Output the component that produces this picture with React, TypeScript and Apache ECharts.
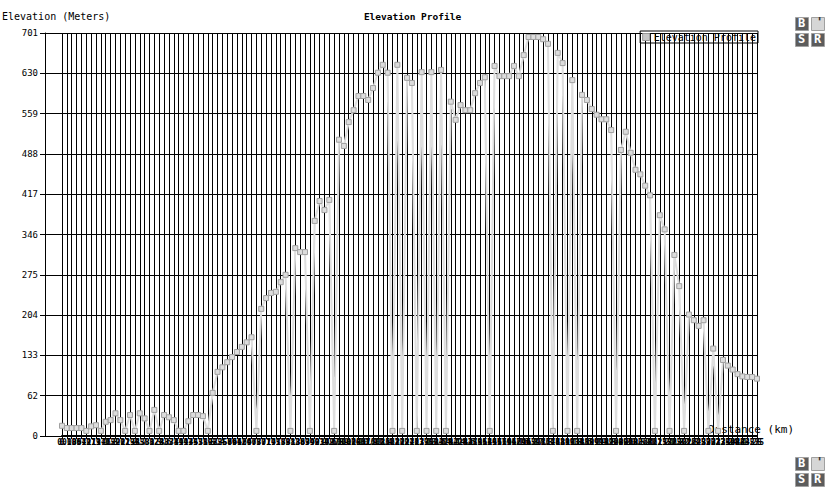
import React, { useEffect, useRef } from "react";
import * as echarts from "echarts";

const distances = [
  0, 0.18, 0.36, 0.54, 0.72, 0.97, 1.19, 1.37, 1.47, 1.65, 1.8, 1.91, 2.01, 2.19, 2.34, 2.55, 2.7, 2.81,
  3.02, 3.24, 3.38, 3.6, 3.71, 3.81, 3.99, 4.17, 4.35, 4.53, 4.71, 4.89, 5.07, 5.22, 5.4, 5.58, 5.76,
  5.94, 6.12, 6.29, 6.47, 6.65, 6.87, 7.01, 7.19, 7.41, 7.55, 7.73, 7.91, 8.13, 8.38, 8.63, 8.74, 8.92,
  9.03, 9.17, 9.42, 9.6, 9.75, 9.89, 10.07, 10.25, 10.43, 10.61, 10.76, 10.9, 11.08, 11.26, 11.4, 11.62,
  11.87, 12.09, 12.27, 12.41, 12.63, 12.77, 12.95, 13.09, 13.24, 13.6, 13.78, 13.92, 14.1, 14.28, 14.42,
  14.6, 14.78, 14.96, 15.14, 15.29, 15.47, 15.61, 15.79, 15.94, 16.12, 16.29, 16.44, 16.65, 16.8, 16.98,
  17.16, 17.3, 17.48, 17.63, 17.81, 17.99, 18.13, 18.31, 18.45, 18.6, 18.81, 18.99, 19.17, 19.32, 19.5,
  19.64, 19.82, 19.96, 20.18, 20.32, 20.5, 20.68, 20.86, 21.0, 21.15, 21.33, 21.51, 21.65, 21.8, 22.01,
  22.16, 22.3, 22.45, 22.59, 22.77, 23.02, 23.17, 23.35, 23.49, 23.67, 23.88, 24.1, 24.32, 24.53, 24.75,
  25,
];

const elevations = [
  9, 5, 5, 5, 5, 0, 8, 10, 0, 16, 19, 31, 19, 0, 28, 0, 31, 22, 0, 37, 0, 28, 24, 19, 0, 0, 17, 28, 28,
  26, 0, 67, 104, 112, 121, 130, 139, 148, 156, 165, 0, 215, 234, 243, 245, 262, 275, 0, 322, 315, 315,
  0, 370, 405, 389, 407, 0, 513, 502, 544, 565, 590, 590, 583, 604, 631, 645, 631, 0, 645, 0, 622, 613,
  0, 632, 0, 632, 0, 636, 0, 580, 548, 574, 565, 565, 595, 613, 623, 0, 643, 625, 625, 625, 643, 625,
  662, 694, 694, 694, 690, 682, 0, 666, 648, 0, 618, 0, 592, 583, 567, 557, 549, 549, 530, 0, 495, 527,
  490, 460, 452, 432, 415, 0, 380, 355, 0, 310, 255, 0, 205, 195, 185, 195, 0, 145, 0, 125, 115, 108,
  100, 96, 95, 95, 92,
];

const yMin = -9;
const yMax = 701;
const yStep = 71;

const MONO = "'DejaVu Sans Mono', 'Liberation Mono', monospace";

function buttons(x: number, y: number) {
  const btn = (dx: number, dy: number, label: string, dark: boolean) => [
    {
      type: "rect",
      left: x + dx,
      top: y + dy,
      shape: { width: 13, height: 13 },
      style: { fill: dark ? "#5c5c5c" : "#d6d6d6", stroke: "#a0a0a0", lineWidth: 1 },
    },
    {
      type: "text",
      left: x + dx + (dark ? 3 : 5),
      top: y + dy + (dark ? 0 : -1),
      style: {
        text: label,
        fill: dark ? "#ffffff" : "#333333",
        font: `bold 12px ${MONO}`,
      },
    },
  ];
  return [
    ...btn(0, 0, "B", true),
    ...btn(16, 0, "'", false),
    ...btn(0, 16, "S", true),
    ...btn(16, 16, "R", true),
  ];
}

export default function App() {
  const ref = useRef<HTMLDivElement>(null);
  useEffect(() => {
    if (!ref.current) return;
    const chart = echarts.init(ref.current, undefined, { renderer: "svg" });
    const categories = distances.map((d) => String(d));
    const yCommon = {
      type: "value",
      position: "left",
      min: yMin,
      max: yMax,
      interval: yStep,
      offset: 17,
    };
    chart.setOption({
      animation: false,
      backgroundColor: "#ffffff",
      title: {
        text: "Elevation Profile",
        left: "center",
        top: 6,
        textStyle: { fontFamily: MONO, fontSize: 9.5, fontWeight: "bold", color: "#000" },
      },
      legend: {
        right: 67,
        top: 31,
        orient: "horizontal",
        itemWidth: 7,
        itemHeight: 7,
        itemGap: 4,
        padding: [1, 2, 1, 2],
        borderColor: "#000",
        borderWidth: 1,
        icon: "rect",
        textStyle: { fontFamily: MONO, fontSize: 10, color: "#000", padding: [0, 0, 0, -1] },
        data: [{ name: "Elevation Profile", itemStyle: { color: "#c8c8c8", borderColor: "#999", borderWidth: 1 } }],
      },
      grid: { left: 62, right: 68, top: 33, bottom: 55, containLabel: false },
      xAxis: {
        type: "category",
        data: categories,
        boundaryGap: false,
        axisLine: { show: true, onZero: false, lineStyle: { color: "#000", width: 2 } },
        axisTick: { show: true, interval: 0, length: 3, lineStyle: { color: "#000" } },
        axisLabel: {
          show: true,
          interval: 0,
          hideOverlap: false,
          margin: 2,
          fontFamily: MONO,
          fontSize: 8,
          fontWeight: "bold",
          color: "#000",
        },
        splitLine: { show: true, interval: 0, lineStyle: { color: "#000", width: 1 } },
      },
      yAxis: [
        {
          ...yCommon,
          axisLine: { show: true, lineStyle: { color: "#000", width: 1 } },
          axisTick: { show: true, inside: true, length: 17, lineStyle: { color: "#000", width: 1 } },
          axisLabel: {
            show: true,
            margin: 7,
            fontFamily: MONO,
            fontSize: 9,
            color: "#000",
            formatter: (v: number) => String(Math.max(0, v)),
          },
          splitLine: { show: true, lineStyle: { color: "#000", width: 1 } },
        },
        {
          ...yCommon,
          axisLine: { show: false },
          axisTick: { show: true, inside: false, length: 5, lineStyle: { color: "#000", width: 1 } },
          axisLabel: { show: false },
          splitLine: { show: false },
        },
      ],
      series: [
        {
          name: "Elevation Profile",
          type: "line",
          data: elevations,
          symbol: "rect",
          symbolSize: 5,
          showSymbol: true,
          showAllSymbol: true,
          lineStyle: { color: "#dedede", width: 2 },
          itemStyle: { color: "#dcdcdc", borderColor: "#a0a0a0", borderWidth: 1 },
          z: 5,
        },
      ],
      graphic: [
        {
          type: "text",
          left: 2,
          top: 11,
          style: { text: "Elevation (Meters)", font: `10px ${MONO}`, fill: "#000" },
        },
        {
          type: "text",
          left: 708,
          top: 424,
          style: { text: "Distance (km)", font: `11px ${MONO}`, fill: "#000" },
        },
        ...buttons(795, 17),
        ...buttons(795, 457),
      ],
    });
    return () => chart.dispose();
  }, []);
  return (
    <div
      ref={ref}
      style={{ position: "fixed", left: 0, top: 0, width: 825, height: 491, background: "#fff" }}
    />
  );
}
